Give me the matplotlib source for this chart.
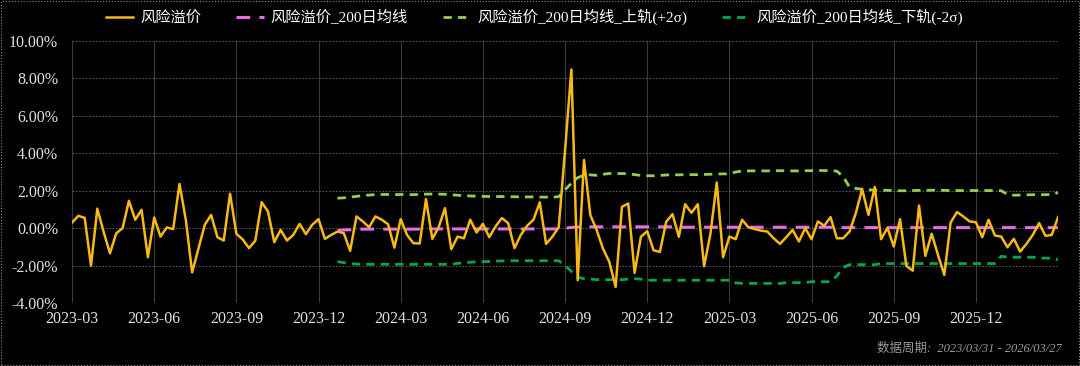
import numpy as np
import pandas as pd
import matplotlib
matplotlib.use("Agg")
import matplotlib.pyplot as plt
from matplotlib.patches import Rectangle
from matplotlib.ticker import FuncFormatter

# weekly observations, 2023/03/31 - 2026/03/27
dates = pd.date_range("2023-03-31", periods=157, freq="W-FRI")

# 风险溢价 (%)
premium = [
    0.30, 0.66, 0.55, -2.00, 1.04, -0.20, -1.34, -0.27, 0.00, 1.46,
    0.45, 0.98, -1.55, 0.57, -0.45, 0.04, -0.05, 2.36, 0.45, -2.36,
    -1.10, 0.18, 0.71, -0.48, -0.66, 1.84, -0.30, -0.60, -1.07, -0.66,
    1.39, 0.89, -0.75, -0.09, -0.66, -0.36, 0.23, -0.32, 0.18, 0.48,
    -0.57, -0.36, -0.18, -0.27, -1.21, 0.63, 0.36, 0.05, 0.63, 0.45,
    0.21, -1.04, 0.48, -0.36, -0.80, -0.82, 1.55, -0.57, 0.05, 1.07,
    -1.12, -0.45, -0.54, 0.45, -0.23, 0.23, -0.48, 0.09, 0.54, 0.27,
    -1.07, -0.36, 0.13, 0.45, 1.38, -0.84, -0.45, 0.05, 4.17, 8.48,
    -2.78, 3.64, 0.70, -0.10, -1.09, -1.80, -3.14, 1.14, 1.32, -2.39,
    -0.46, -0.16, -1.18, -1.27, 0.34, 0.75, -0.46, 1.28, 0.82, 1.28,
    -2.03, -0.30, 2.44, -1.55, -0.45, -0.59, 0.45, 0.05, -0.05, -0.13,
    -0.18, -0.54, -0.84, -0.48, -0.09, -0.71, 0.00, -0.59, 0.36, 0.13,
    0.59, -0.54, -0.54, -0.18, 0.80, 2.09, 0.71, 2.20, -0.59, 0.02,
    -0.98, 0.48, -2.02, -2.27, 1.21, -1.48, -0.30, -1.43, -2.50, 0.30,
    0.86, 0.63, 0.36, 0.32, -0.48, 0.45, -0.39, -0.45, -1.02, -0.57,
    -1.25, -0.84, -0.36, 0.27, -0.41, -0.36, 0.59,
]

# bands start at the 43rd week
band_start = 42

# 200日均线 (%)
ma200 = [
    -0.12, -0.10, -0.08, -0.06, -0.05, -0.05, -0.05, -0.05, -0.05, -0.05,
    -0.05, -0.05, -0.05, -0.05, -0.05, -0.04, -0.04, -0.04, -0.04, -0.04,
    -0.04, -0.04, -0.04, -0.04, -0.04, -0.04, -0.04, -0.04, -0.04, -0.04,
    -0.04, -0.04, -0.04, -0.04, -0.04, -0.04, 0.00, 0.04, 0.06, 0.07,
    0.07, 0.07, 0.07, 0.07, 0.07, 0.07, 0.07, 0.07, 0.07, 0.07,
    0.07, 0.07, 0.07, 0.07, 0.05, 0.05, 0.05, 0.05, 0.05, 0.05,
    0.05, 0.05, 0.05, 0.05, 0.05, 0.05, 0.05, 0.05, 0.05, 0.05,
    0.05, 0.05, 0.05, 0.05, 0.05, 0.05, 0.05, 0.05, 0.05, 0.03,
    0.03, 0.03, 0.03, 0.03, 0.03, 0.03, 0.03, 0.03, 0.03, 0.03,
    0.03, 0.03, 0.03, 0.03, 0.03, 0.03, 0.03, 0.03, 0.03, 0.03,
    0.03, 0.03, 0.03, 0.03, 0.03, 0.03, 0.03, 0.03, 0.03, 0.03,
    0.03, 0.03, 0.03, 0.03, 0.03,
]

# 上轨 (+2σ)
upper = [
    1.60, 1.62, 1.66, 1.70, 1.74, 1.77, 1.79, 1.80, 1.80, 1.79,
    1.80, 1.80, 1.79, 1.80, 1.82, 1.82, 1.82, 1.81, 1.78, 1.76,
    1.74, 1.72, 1.71, 1.70, 1.69, 1.69, 1.69, 1.68, 1.68, 1.67,
    1.67, 1.67, 1.66, 1.66, 1.66, 1.68, 2.05, 2.40, 2.70, 2.83,
    2.85, 2.82, 2.88, 2.92, 2.92, 2.92, 2.90, 2.86, 2.82, 2.80,
    2.80, 2.82, 2.84, 2.85, 2.85, 2.86, 2.86, 2.86, 2.87, 2.88,
    2.89, 2.90, 2.90, 3.00, 3.05, 3.06, 3.06, 3.06, 3.06, 3.07,
    3.07, 3.07, 3.06, 3.06, 3.07, 3.07, 3.08, 3.08, 3.07, 3.05,
    2.75, 2.20, 2.12, 2.08, 2.05, 2.04, 2.03, 2.02, 2.01, 2.00,
    2.00, 2.01, 2.02, 2.02, 2.03, 2.03, 2.02, 2.01, 2.01, 2.01,
    2.01, 2.01, 2.01, 2.01, 2.01, 2.00, 1.80, 1.76, 1.77, 1.78,
    1.79, 1.79, 1.79, 1.80, 1.90,
]

# 下轨 (-2σ)
lower = [
    -1.79, -1.84, -1.89, -1.92, -1.93, -1.93, -1.93, -1.93, -1.93, -1.93,
    -1.93, -1.93, -1.93, -1.93, -1.93, -1.93, -1.93, -1.93, -1.93, -1.88,
    -1.85, -1.82, -1.80, -1.79, -1.78, -1.76, -1.75, -1.74, -1.74, -1.74,
    -1.74, -1.74, -1.74, -1.74, -1.74, -1.74, -2.00, -2.30, -2.62, -2.70,
    -2.72, -2.75, -2.75, -2.75, -2.75, -2.75, -2.72, -2.70, -2.72, -2.78,
    -2.78, -2.78, -2.78, -2.78, -2.78, -2.78, -2.78, -2.78, -2.78, -2.78,
    -2.78, -2.78, -2.78, -2.92, -2.95, -2.95, -2.95, -2.95, -2.95, -2.95,
    -2.95, -2.91, -2.91, -2.91, -2.91, -2.86, -2.86, -2.86, -2.86, -2.55,
    -2.10, -1.95, -1.95, -1.95, -1.95, -1.95, -1.89, -1.89, -1.89, -1.89,
    -1.89, -1.89, -1.89, -1.89, -1.89, -1.89, -1.89, -1.89, -1.89, -1.89,
    -1.89, -1.89, -1.89, -1.89, -1.89, -1.50, -1.55, -1.55, -1.55, -1.55,
    -1.55, -1.60, -1.60, -1.60, -1.68,
]

labels = ["风险溢价", "风险溢价_200日均线", "风险溢价_200日均线_上轨(+2σ)", "风险溢价_200日均线_下轨(-2σ)"]
colors = ["#F7B917", "#E86BE8", "#92D050", "#00A650"]

serif_cjk = ["Liberation Serif", "Noto Sans CJK SC", "DejaVu Sans"]
plt.rcParams["font.family"] = serif_cjk
plt.rcParams["axes.unicode_minus"] = False

x = np.arange(len(premium))
xb = np.arange(band_start, band_start + len(ma200))

fig = plt.figure(figsize=(10.8, 3.66), dpi=100, facecolor="black")
ax = fig.add_axes([0.0667, 0.172, 0.913, 0.716], facecolor="black")

ax.plot(x, premium, color=colors[0], lw=1.8, label=labels[0], zorder=5)
ax.plot(xb, ma200, color=colors[1], lw=2.2, dashes=(4.5, 3), label=labels[1], zorder=4)
ax.plot(xb, upper, color=colors[2], lw=2.0, dashes=(3, 2.2), label=labels[2], zorder=4)
ax.plot(xb, lower, color=colors[3], lw=2.0, dashes=(3, 2.2), label=labels[3], zorder=4)

ax.set_xlim(0, len(premium) - 1)
ax.set_ylim(-4, 10)
ax.set_yticks(np.arange(-4, 10.1, 2))
ax.yaxis.set_major_formatter(FuncFormatter(lambda v, p: f"{v:.2f}%"))

tick_idx = np.arange(0, len(premium) - 1, 13)
ax.set_xticks(tick_idx)
ax.set_xticklabels([dates[i].strftime("%Y-%m") for i in tick_idx])

ax.tick_params(axis="both", length=0, colors="#E0E0E0", labelsize=11.5)
ax.tick_params(axis="y", pad=10)
ax.tick_params(axis="x", pad=6)

ax.yaxis.grid(True, color="#6A6A6A", ls=(0, (2, 2)), lw=0.6)
ax.xaxis.grid(True, color="#3A3A3A", ls="-", lw=0.8)
ax.set_axisbelow(True)
for s in ax.spines.values():
    s.set_visible(False)

leg = fig.legend(loc="center", bbox_to_anchor=(0.495, 0.953), ncol=4, frameon=False,
                 fontsize=11, handlelength=1.8, columnspacing=2.3, handletextpad=0.45)
for t in leg.get_texts():
    t.set_color("white")

fig.text(0.983, 0.048, "数据周期:  2023/03/31 - 2026/03/27", ha="right", va="center",
         fontsize=9, color="#9A9A9A", style="italic", family=serif_cjk)

fig.patches.append(Rectangle((0.001, 0.002), 0.998, 0.996, transform=fig.transFigure,
                             fill=False, ec="#8A8A8A", lw=0.8, ls=":"))

fig.savefig("out.png", dpi=100, facecolor="black")
